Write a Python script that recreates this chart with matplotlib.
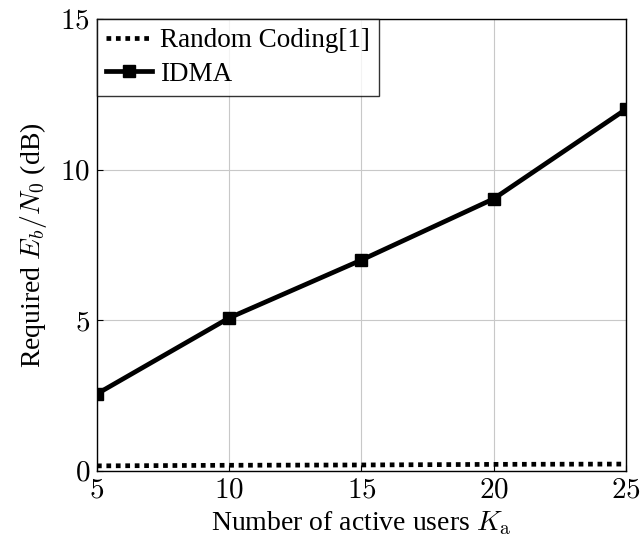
import matplotlib
matplotlib.use("Agg")
import matplotlib.pyplot as plt

plt.rcParams['font.family'] = ['Liberation Serif', 'DejaVu Serif']
plt.rcParams['mathtext.fontset'] = 'cm'

# data
users = [5, 10, 15, 20, 25]
random_coding = [0.17, 0.19, 0.2, 0.22, 0.23]
idma = [2.56, 5.08, 7.0, 9.03, 12.0]

fig = plt.figure(figsize=(6.41, 5.44), dpi=100)
ax = fig.add_axes([0.1513, 0.1342, 0.825, 0.831])

ax.plot(users, random_coding, color="black", linestyle=(0, (1, 1)), linewidth=3.4,
        label="Random Coding[1]")
ax.plot(users, idma, color="black", linewidth=3.4, marker="s", markersize=9,
        label="IDMA")

ax.set_xlim(5, 25)
ax.set_ylim(0, 15)
ax.set_xticks([5, 10, 15, 20, 25])
ax.set_yticks([0, 5, 10, 15])
ax.grid(True, color="#c8c8c8", linewidth=0.8)
ax.tick_params(direction="in", labelsize=21, length=4, pad=5)
fmt = matplotlib.ticker.FuncFormatter(lambda v, p: r"$%d$" % v)
ax.xaxis.set_major_formatter(fmt)
ax.yaxis.set_major_formatter(fmt)

ax.set_xlabel(r"Number of active users $K_\mathrm{a}$", fontsize=20, labelpad=4)
ax.set_ylabel(r"Required $E_b/N_0$ (dB)", fontsize=20, labelpad=8)

leg = ax.legend(loc="upper left", fontsize=19.5, frameon=True, fancybox=False,
                edgecolor="black", handlelength=1.67, handletextpad=0.3,
                borderaxespad=0.0, labelspacing=0.3, borderpad=0.35)
leg.get_frame().set_linewidth(1.0)

for s in ax.spines.values():
    s.set_linewidth(1.0)

plt.savefig("out.png", dpi=100)
